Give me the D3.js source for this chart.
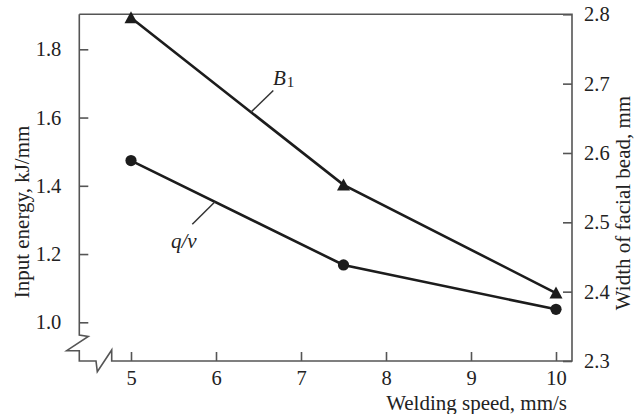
<!DOCTYPE html>
<html>
<head>
<meta charset="utf-8">
<script src="https://cdn.jsdelivr.net/npm/d3@7"></script>
<style>
  html, body { margin: 0; padding: 0; background: #fff; }
  svg text { font-family: "Liberation Serif", "DejaVu Serif", serif; fill: #222; }
</style>
</head>
<body>
<svg id="chart" width="635" height="414"></svg>
<script>
// ---- data ----
const speeds = [5, 7.5, 10];                 // welding speed, mm/s
const inputEnergy = [1.474, 1.168, 1.038];   // q/v, kJ/mm (left axis)
const beadWidth = [2.795, 2.554, 2.398];     // B1, mm (right axis)
const xTicks = [5, 6, 7, 8, 9, 10];
const yLeftTicks = [1.0, 1.2, 1.4, 1.6, 1.8];
const yRightTicks = [2.3, 2.4, 2.5, 2.6, 2.7, 2.8];
const xLabel = "Welding speed, mm/s";
const yLeftLabel = "Input energy, kJ/mm";
const yRightLabel = "Width of facial bead, mm";

// ---- layout ----
const L = 79.3, R = 572, T = 14.3, B = 361;
const svg = d3.select("#chart");

const x = d3.scaleLinear().domain([5, 10]).range([131, 556]);
const yL = d3.scaleLinear().domain([1.0, 1.8]).range([322.3, 49.3]);
const yR = d3.scaleLinear().domain([2.3, 2.8]).range([B, T]);

const axisColor = "#555";
const lineColor = "#1c1c1c";

// frame with axis breaks
const frame = d3.path();
frame.moveTo(L, T);
frame.lineTo(L, 335);
frame.lineTo(L + 9, 336.5);
frame.lineTo(L - 12.6, 350.7);
frame.lineTo(L, 350.7);
frame.lineTo(L, B);
frame.lineTo(96, B);
frame.lineTo(97.3, B + 10.7);
frame.lineTo(111.7, B - 11);
frame.lineTo(111.7, B);
frame.lineTo(R, B);
frame.lineTo(R, T);
frame.lineTo(L, T);
svg.append("path").attr("d", frame.toString())
  .attr("fill", "none").attr("stroke", axisColor).attr("stroke-width", 1.6)
  .attr("stroke-linejoin", "miter");

// axes using d3 axis generators (ticks inward)
const fmt1 = d3.format(".1f");
const gx = svg.append("g").attr("transform", `translate(0,${B})`)
  .call(d3.axisBottom(x).tickValues(xTicks).tickSize(-9).tickPadding(17).tickFormat(d3.format("d")));
const gl = svg.append("g").attr("transform", `translate(${L},0)`)
  .call(d3.axisLeft(yL).tickValues(yLeftTicks).tickSize(-9).tickPadding(18).tickFormat(fmt1));
const gr = svg.append("g").attr("transform", `translate(${R},0)`)
  .call(d3.axisRight(yR).tickValues(yRightTicks).tickSize(-9).tickPadding(12).tickFormat(fmt1));

[gx, gl, gr].forEach(g => {
  g.select(".domain").remove();
  g.selectAll(".tick line").attr("stroke", axisColor).attr("stroke-width", 1.6);
  g.selectAll(".tick text").attr("font-size", 20.5)
    .style("font-family", '"Liberation Serif", serif').attr("fill", "#222");
});
gx.selectAll(".tick text").attr("dy", "0.71em").attr("y", 9.5);

// axis titles
svg.append("text").attr("x", 567).attr("y", 410).attr("text-anchor", "end")
  .attr("font-size", 21).text(xLabel);
svg.append("text").attr("transform", "translate(29,212) rotate(-90)")
  .attr("text-anchor", "middle").attr("font-size", 21).text(yLeftLabel);
svg.append("text").attr("transform", "translate(630,203) rotate(-90)")
  .attr("text-anchor", "middle").attr("font-size", 21).text(yRightLabel);

// series
const qvPts = speeds.map((s, i) => [x(s), yL(inputEnergy[i])]);
const bPts = speeds.map((s, i) => [x(s), yR(beadWidth[i])]);
const line = d3.line();

svg.append("path").attr("d", line(bPts)).attr("fill", "none")
  .attr("stroke", lineColor).attr("stroke-width", 2.6);
svg.append("path").attr("d", line(qvPts)).attr("fill", "none")
  .attr("stroke", lineColor).attr("stroke-width", 2.6);

svg.selectAll("circle.qv").data(qvPts).enter().append("circle")
  .attr("class", "qv").attr("cx", d => d[0]).attr("cy", d => d[1])
  .attr("r", 5.6).attr("fill", lineColor);

svg.selectAll("path.tri").data(bPts).enter().append("path")
  .attr("class", "tri")
  .attr("d", d => `M${d[0]},${d[1] - 6.5}L${d[0] + 6.5},${d[1] + 5.5}L${d[0] - 6.5},${d[1] + 5.5}Z`)
  .attr("fill", lineColor);

// series labels with leader lines
function leader(series, frac, dx, dy) {
  const x0 = series[0][0], y0 = series[0][1], x1 = series[1][0], y1 = series[1][1];
  const px = x0 + (x1 - x0) * frac, py = y0 + (y1 - y0) * frac;
  svg.append("line").attr("x1", px).attr("y1", py).attr("x2", px + dx).attr("y2", py + dy)
    .attr("stroke", "#333").attr("stroke-width", 1.5);
}
leader(bPts, (251 - bPts[0][0]) / (bPts[1][0] - bPts[0][0]), 22.3, -21.6);
leader(qvPts, (215 - qvPts[0][0]) / (qvPts[1][0] - qvPts[0][0]), -22.7, 22.4);

const bl = svg.append("text").attr("x", 273).attr("y", 85).attr("font-size", 21);
bl.append("tspan").attr("font-style", "italic").text("B");
bl.append("tspan").attr("font-size", 15).attr("dy", 2).attr("dx", 1).text("1");

svg.append("text").attr("x", 171).attr("y", 248).attr("font-size", 21)
  .attr("font-style", "italic").text("q/v");
</script>
</body>
</html>
